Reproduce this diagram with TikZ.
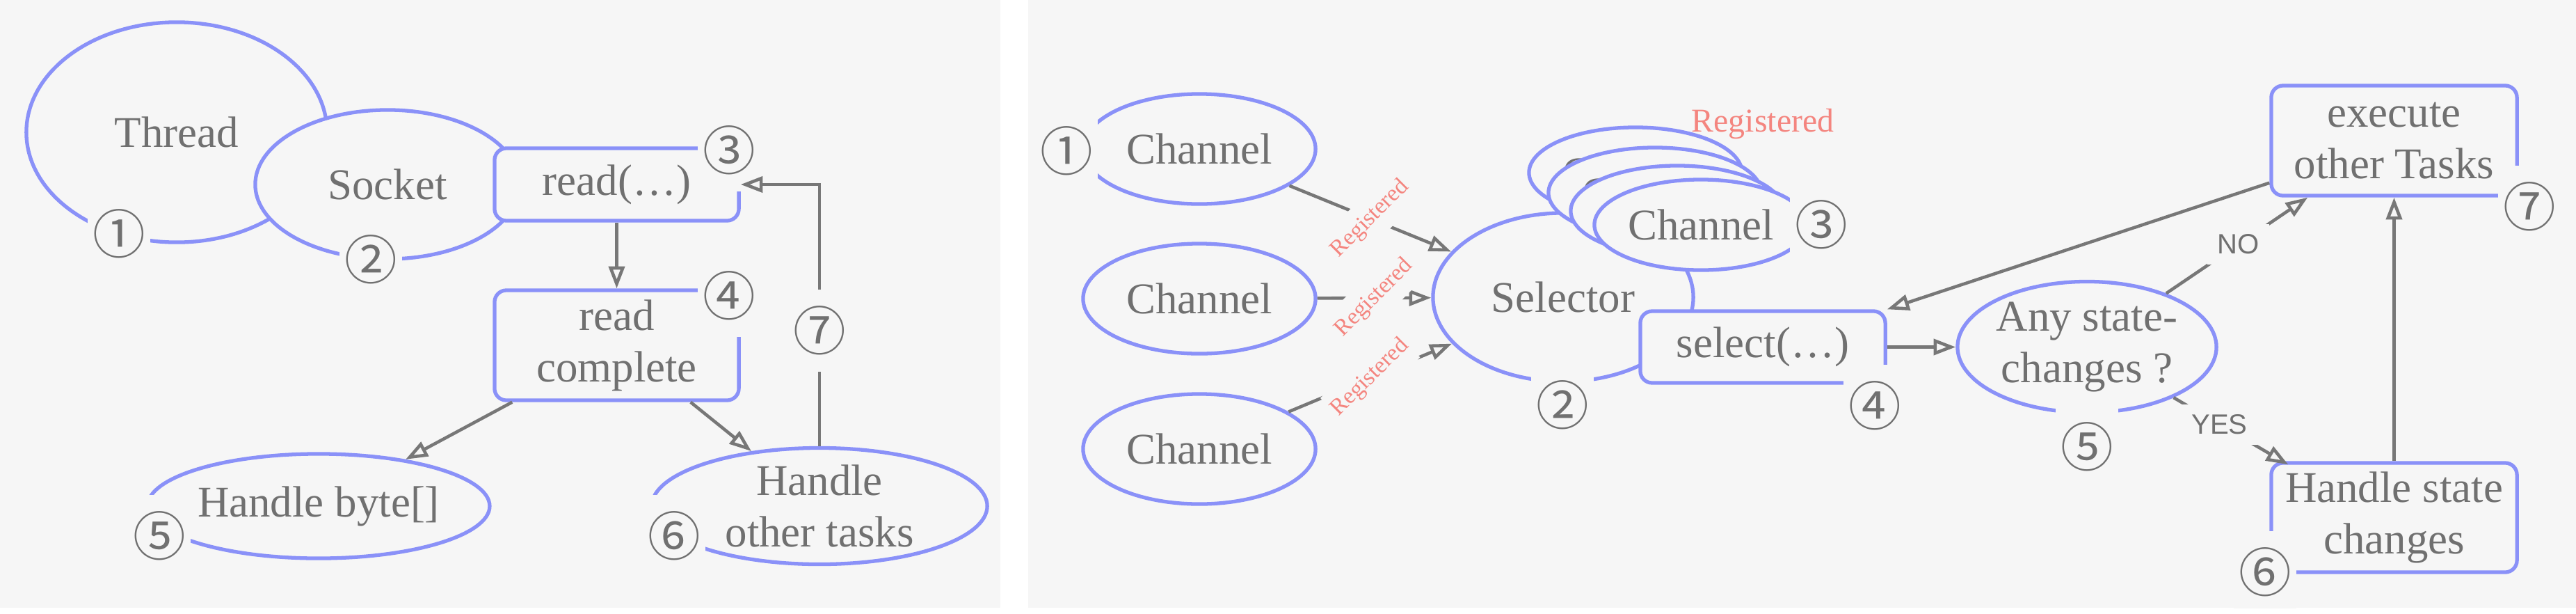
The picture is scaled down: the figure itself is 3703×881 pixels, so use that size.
\documentclass[tikz,border=0pt]{standalone}
\usepackage{fontspec}
\setmainfont{Liberation Serif}
\newfontfamily\circf{Noto Sans CJK SC}
\newfontfamily\sansf{Liberation Sans}
\usetikzlibrary{shapes.geometric,arrows.meta,calc}
\definecolor{panelbg}{HTML}{F6F6F6}
\definecolor{nblue}{HTML}{8A91F8}
\definecolor{tgray}{HTML}{707070}
\definecolor{lgray}{HTML}{777777}
\definecolor{salmon}{HTML}{F4857F}
\tikzset{
  mainfont/.style={font=\fontsize{17.9pt}{21pt}\selectfont, text=tgray, align=center},
  ell/.style={mainfont, ellipse, draw=nblue, line width=1.5pt, fill=panelbg, inner sep=0pt},
  rbox/.style={mainfont, rectangle, rounded corners=0.17cm, draw=nblue, line width=1.5pt, fill=panelbg, inner sep=0pt},
  num/.style={font=\circf\fontsize{21.5pt}{21.5pt}\selectfont, text=tgray, fill=panelbg, inner sep=0pt, minimum width=0.9cm, minimum height=1.18cm},
  arr/.style={draw=lgray, line width=1.3pt, -{Triangle[open, length=9pt, width=6.5pt]}},
  reg/.style={font=\fontsize{9.5pt}{11pt}\selectfont, text=salmon, fill=panelbg, rotate=45, inner xsep=0pt, inner ysep=4.2pt},
  yn/.style={font=\sansf\fontsize{11.4pt}{13pt}\selectfont, text=tgray, fill=panelbg, inner sep=4.2pt},
}
\begin{document}
\begin{tikzpicture}[x=0.01cm, y=-0.01cm]
\useasboundingbox (0,0) rectangle (3703,881);
\fill[white] (0,0) rectangle (3703,881);
% ---------------- left panel ----------------
\begin{scope}
\clip (0,0) rectangle (1438,873);
\fill[panelbg] (0,0) rectangle (1438,873);
\node[ell, minimum width=4.32cm, minimum height=3.16cm] (thread) at (254,190) {Thread};
\node[num] (l1) at (171,336) {①};
\node[ell, minimum width=3.80cm, minimum height=2.14cm] (socket) at (557,265) {Socket};
\node[num] (l2) at (533,373) {②};
\node[rbox, minimum width=3.51cm, minimum height=1.04cm] (read) at (886.5,265) {read(…)};
\node[num] (l3) at (1048,216) {③};
\node[rbox, minimum width=3.51cm, minimum height=1.58cm] (rc) at (886.5,496) {read\\complete};
\node[num] (l4) at (1048,425) {④};
\node[ell, minimum width=4.82cm, minimum height=1.50cm] (hb) at (458,727) {Handle byte[]};
\node[num] (l5) at (229,770) {⑤};
\node[ell, minimum width=4.82cm, minimum height=1.50cm] (hot) at (1178,727) {Handle\\other tasks};
\node[num] (l6) at (969,770) {⑥};
\draw[arr] (read.south) -- (rc.north);
\draw[arr] ($(rc.south west)+(28,0)$) -- (hb);
\draw[arr] ($(rc.south east)+(-72,0)$) -- (hot);
\draw[arr] (hot.north) |- (read.east);
\node[num] (l7) at (1178,475) {⑦};
\end{scope}
% ---------------- right panel ----------------
\begin{scope}
\clip (1478,0) rectangle (3703,873);
\fill[panelbg] (1478,0) rectangle (3703,873);
\node[ell, minimum width=3.34cm, minimum height=1.58cm] (ch1) at (1724,214) {Channel};
\node[ell, minimum width=3.34cm, minimum height=1.58cm] (ch2) at (1724,429) {Channel};
\node[ell, minimum width=3.34cm, minimum height=1.58cm] (ch3) at (1724,645) {Channel};
\node[num] (r1) at (1533,217) {①};
\node[ell, minimum width=3.74cm, minimum height=2.42cm] (sel) at (2247,427) {Selector};
\node[ell, minimum width=3.06cm, minimum height=1.30cm] (st1) at (2351,248) {Channel};
\node[ell, minimum width=3.06cm, minimum height=1.30cm] (st2) at (2379,277) {Channel};
\node[ell, minimum width=3.06cm, minimum height=1.30cm] (st3) at (2411,303) {Channel};
\node[ell, minimum width=3.06cm, minimum height=1.30cm] (st4) at (2445,323) {Channel};
\node[num] (r3) at (2618,323) {③};
\node[font=\fontsize{13.6pt}{16pt}\selectfont, text=salmon] (toplab) at (2534,178) {Registered};
\node[rbox, minimum width=3.52cm, minimum height=1.03cm] (selbox) at (2534,498.5) {select(…)};
\node[num] (r2) at (2246,582) {②};
\node[num] (r4) at (2695,583) {④};
\node[ell, minimum width=3.72cm, minimum height=1.88cm] (any) at (3000,498.5) {Any state-\\changes ?};
\node[num] (r5) at (3000,642) {⑤};
\node[rbox, minimum width=3.53cm, minimum height=1.58cm] (exec) at (3441.5,202) {execute\\other Tasks};
\node[num] (r7) at (3636,297) {⑦};
\node[rbox, minimum width=3.53cm, minimum height=1.57cm] (hsc) at (3441.5,743.5) {Handle state\\changes};
\node[num] (r6) at (3256,822) {⑥};
\draw[arr] (ch1) -- node[reg] {Registered} (sel);
\draw[arr] (ch2) -- node[reg] {Registered} (sel);
\draw[arr] (ch3) -- node[reg] {Registered} (sel);
\draw[arr] (selbox.east) -- (any.west);
\draw[arr] (any) -- node[yn, pos=0.51] {NO} ($(exec.south west)+(55,0)$);
\draw[arr] (any) -- node[yn, pos=0.4] {YES} ($(hsc.north west)+(27,5)$);
\draw[arr] ($(exec.south west)+(0,-21)$) -- (selbox.north east);
\draw[arr] (hsc.north) -- (exec.south);
\end{scope}
\end{tikzpicture}
\end{document}
